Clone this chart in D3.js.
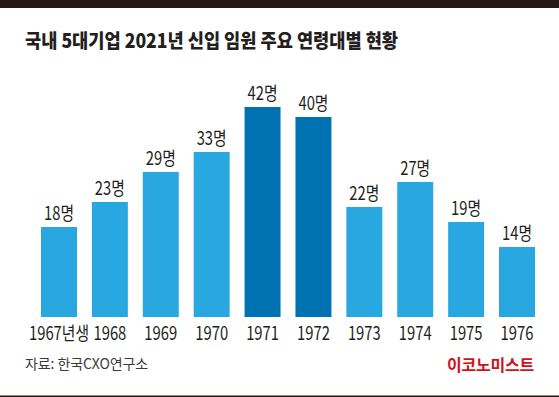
<!DOCTYPE html>
<html><head><meta charset="utf-8">
<script src="https://cdn.jsdelivr.net/npm/d3@7/dist/d3.min.js"></script>
<style>
html,body{margin:0;padding:0;background:#fff;}
svg{display:block;}
text{font-family:"Noto Sans CJK KR","Noto Sans",sans-serif;}
</style></head>
<body>
<svg id="chart" width="559" height="397"></svg>
<script>
const title = "국내 5대기업 2021년 신입 임원 주요 연령대별 현황";
const categories = ["1967년생","1968","1969","1970","1971","1972","1973","1974","1975","1976"];
const values = [18,23,29,33,42,40,22,27,19,14];
const highlighted = ["1971","1972"];
const valueSuffix = "명";
const source = "자료: 한국CXO연구소";
const brand = "이코노미스트";

const svg = d3.select("#chart");
const W = 559, H = 397;
const textColor = "#231f20";
const sx = 0.8;

svg.append("rect").attr("x",0).attr("y",0).attr("width",W).attr("height",8).attr("fill","#231815");
svg.append("rect").attr("x",0).attr("y",395.5).attr("width",W).attr("height",1.5).attr("fill","#231815");

svg.append("text").attr("x",25).attr("y",48)
  .attr("font-size",19.5).attr("font-weight",900).attr("fill",textColor)
  .attr("textLength",373).attr("lengthAdjust","spacingAndGlyphs")
  .text(title);

const x = d3.scaleBand().domain(categories).range([41,535]).paddingInner(0.293).paddingOuter(0);
const y = d3.scaleLinear().domain([0,50]).range([317,67]);

const data = categories.map((c,i)=>({c, v: values[i]}));

svg.append("g").selectAll("rect").data(data).join("rect")
  .attr("x",d=>x(d.c)).attr("width",x.bandwidth())
  .attr("y",d=>y(d.v)).attr("height",d=>y(0)-y(d.v))
  .attr("fill",d=>highlighted.includes(d.c)?"#0071b1":"#29a7e1");

svg.append("g").attr("transform",`scale(${sx},1)`).selectAll("text").data(data).join("text")
  .attr("x",d=>(x(d.c)+x.bandwidth()/2)/sx).attr("y",d=>y(d.v)-7)
  .attr("text-anchor","middle").attr("font-size",18.5).attr("fill",textColor)
  .text(d=>d.v+valueSuffix);

const ax = svg.append("g").attr("transform",`translate(0,317) scale(${sx},1)`)
  .call(d3.axisBottom(x.copy().range([41/sx,535/sx])).tickSize(0).tickPadding(0));
ax.select(".domain").remove();
ax.selectAll("text").attr("font-size",18.5).attr("fill",textColor)
  .attr("font-family","\"Noto Sans CJK KR\",sans-serif")
  .attr("dy","0").attr("y",23.5);

svg.append("text").attr("x",25).attr("y",369).attr("font-size",14)
  .attr("fill","#3a3a3a").attr("letter-spacing","-0.1").text(source);

svg.append("text").attr("x",534).attr("y",371).attr("text-anchor","end")
  .attr("font-size",16).attr("font-weight",700).attr("fill","#d0111b")
  .attr("letter-spacing","-0.2").text(brand);
</script>
</body></html>
